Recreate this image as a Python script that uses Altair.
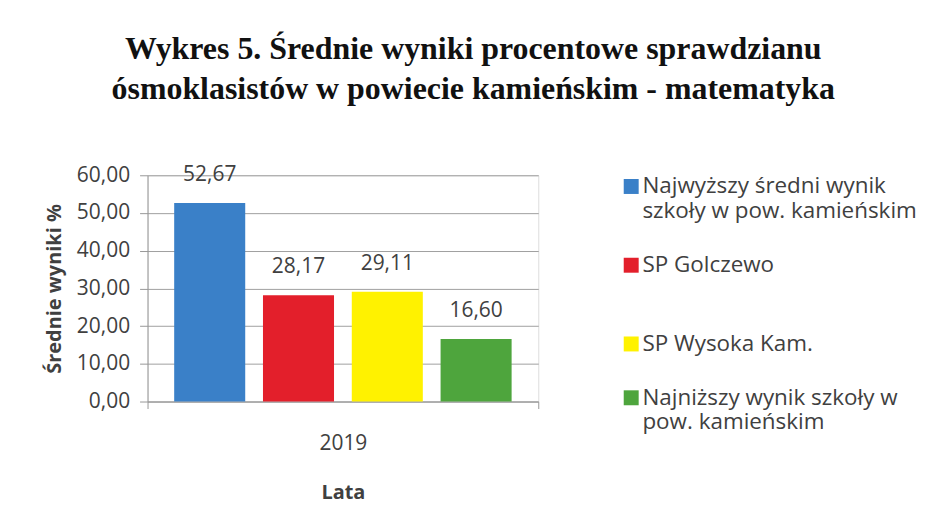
import altair as alt
import pandas as pd

years = ["2019"]
categories = [
    "Najwyższy średni wynik|szkoły w pow. kamieńskim",
    "SP Golczewo|",
    "SP Wysoka Kam.",
    "Najniższy  wynik szkoły w|pow. kamieńskim",
]
values = [52.67, 28.17, 29.11, 16.60]
colors = ["#3a80c8", "#e31f2b", "#fff200", "#4ea53d"]
y_ticks = [0, 10, 20, 30, 40, 50, 60]

df = pd.DataFrame({
    "Rok": [years[0]] * len(categories),
    "Szkoła": categories,
    "Wynik": values,
})

font = "Open Sans"
txt = "#404040"

base = alt.Chart(df).encode(
    x=alt.X("Rok:N", title="Lata",
            scale=alt.Scale(paddingInner=0, paddingOuter=0),
            axis=alt.Axis(labelAngle=0, tickBand="extent", tickSize=7,
                          labelPadding=24, titlePadding=29,
                          labelFont=font, labelFontSize=21, labelColor=txt,
                          titleFont=font, titleFontSize=20, titleFontWeight="bold",
                          titleColor=txt, domainColor="#999999", tickColor="#999999")),
    xOffset=alt.XOffset("Szkoła:N", sort=categories,
                        scale=alt.Scale(paddingInner=0.2, paddingOuter=0.3)),
    y=alt.Y("Wynik:Q", title="Średnie wyniki %",
            scale=alt.Scale(domain=[0, 60], nice=False),
            axis=alt.Axis(values=y_ticks, tickSize=8, labelPadding=10,
                          labelOverlap=False,
                          labelExpr="replace(format(datum.value, '.2f'), '.', ',')",
                          labelFont=font, labelFontSize=21, labelColor=txt,
                          titleFont=font, titleFontSize=20, titleFontWeight="bold",
                          titleColor=txt, titlePadding=12,
                          gridColor="#a0a0a0", domainColor="#999999",
                          tickColor="#999999")),
)

bars = base.mark_bar().encode(
    color=alt.Color("Szkoła:N", sort=categories,
                    scale=alt.Scale(domain=categories, range=colors),
                    legend=alt.Legend(title=None, orient="right", offset=82,
                                      symbolType="square", symbolSize=225,
                                      symbolStrokeWidth=0, labelOffset=0,
                                      labelFont=font, labelFontSize=22.5,
                                      labelColor=txt, labelLimit=400,
                                      rowPadding=31, padding=0,
                                      labelExpr="split(datum.label, '|')")),
)

labels = base.mark_text(dy=-28, baseline="middle", font=font, fontSize=21,
                        color=txt).encode(
    text=alt.Text("Etykieta:N"),
).transform_calculate(
    Etykieta="replace(format(datum.Wynik, '.2f'), '.', ',')"
)

chart = alt.layer(bars, labels).properties(
    width=392,
    height=227,
    padding={"left": 36, "top": 24, "right": 2, "bottom": 5},
    title=alt.TitleParams(
        text=["Wykres 5. Średnie wyniki procentowe sprawdzianu",
              "ósmoklasistów w powiecie kamieńskim - matematyka"],
        font="Liberation Serif", fontSize=32, fontWeight="bold",
        color="#111111", lineHeight=40, anchor="middle", frame="bounds",
        offset=58, dx=-8,
    ),
).configure_view(stroke=None).configure(background="white")

chart.save("out.html", embed_options={"renderer": "svg", "actions": False})
